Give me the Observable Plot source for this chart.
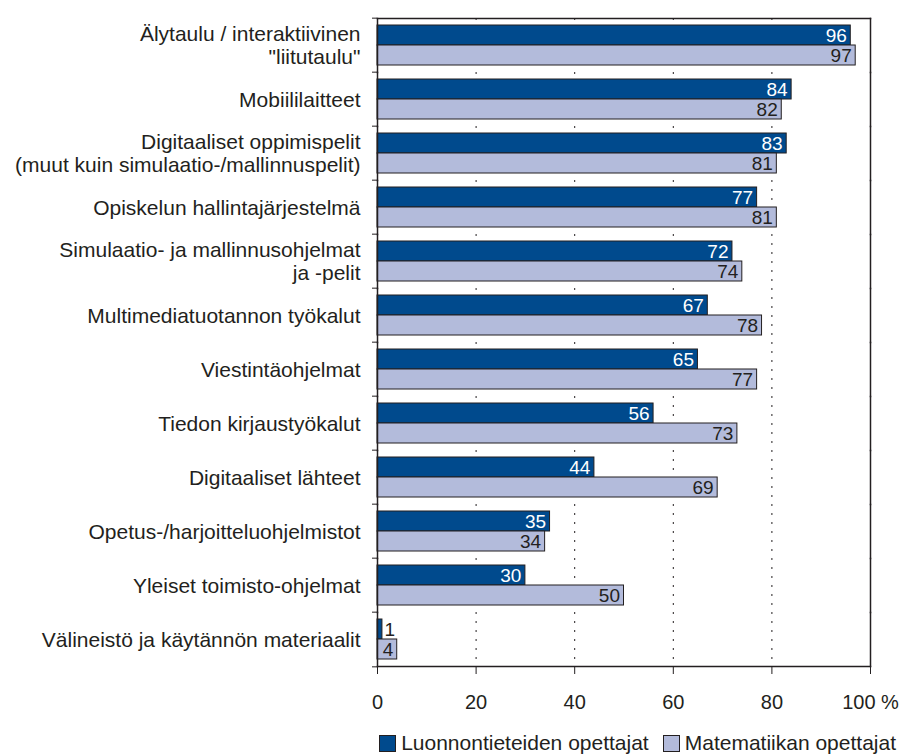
<!DOCTYPE html>
<html><head><meta charset="utf-8">
<script src="https://cdn.jsdelivr.net/npm/d3@7"></script>
<script src="https://cdn.jsdelivr.net/npm/@observablehq/plot@0.6"></script>
<style>
body{margin:0;background:#fff;font-family:"Liberation Sans",Arial,sans-serif;color:#231f20;overflow:hidden;}
#legend{display:flex;justify-content:flex-end;align-items:center;height:34px;padding-right:8px;font-size:21px;}
.item{display:flex;align-items:center;margin-left:14px;}
.sw{width:17px;height:17px;border:1px solid #231f20;margin-right:5px;box-sizing:border-box;}
</style>
</head><body><div id="chart"></div><div id="legend"></div>
<script>
const categories = [
  "Älytaulu / interaktiivinen\n\"liitutaulu\"",
  "Mobiililaitteet",
  "Digitaaliset oppimispelit\n(muut kuin simulaatio-/mallinnuspelit)",
  "Opiskelun hallintajärjestelmä",
  "Simulaatio- ja mallinnusohjelmat\nja -pelit",
  "Multimediatuotannon työkalut",
  "Viestintäohjelmat",
  "Tiedon kirjaustyökalut",
  "Digitaaliset lähteet",
  "Opetus-/harjoitteluohjelmistot",
  "Yleiset toimisto-ohjelmat",
  "Välineistö ja käytännön materiaalit"
];
const series = ["Luonnontieteiden opettajat", "Matematiikan opettajat"];
const luonnontiede = [96, 84, 83, 77, 72, 67, 65, 56, 44, 35, 30, 1];
const matematiikka = [97, 82, 81, 81, 74, 78, 77, 73, 69, 34, 50, 4];
const xTicks = [0, 20, 40, 60, 80, 100];
const gridTicks = [20, 40, 60, 80];
const colors = ["#004a8d", "#b3bbdb"];
const ink = "#231f20";

const data = categories.flatMap((c, i) => [
  {category: c, series: series[0], value: luonnontiede[i]},
  {category: c, series: series[1], value: matematiikka[i]}
]);

const W = 904, H = 726, mt = 14, mb = 56, ml = 377, mr = 34;
const step = (H - mt - mb) / categories.length;

const chart = Plot.plot({
  width: W, height: H,
  marginTop: mt, marginBottom: mb, marginLeft: ml, marginRight: mr,
  style: {fontFamily: "Liberation Sans, Arial, sans-serif", fontSize: "20px", color: ink, background: "#fff"},
  x: {domain: [0, 100]},
  y: {domain: series, paddingInner: 0, paddingOuter: 0.3, axis: null},
  fy: {domain: categories, padding: 0, axis: null, label: null},
  color: {domain: series, range: colors},
  marks: [
    Plot.ruleX(gridTicks, {stroke: ink, strokeDasharray: "2,7", strokeWidth: 1}),
    Plot.barX(data, {fy: "category", y: "series", x: "value", fill: "series", stroke: ink, strokeWidth: 1}),
    Plot.text(data.filter(d => d.value >= 3 && d.series === series[0]), {fy: "category", y: "series", x: "value", text: d => String(d.value), textAnchor: "end", dx: -4, fill: "white", fontSize: 19}),
    Plot.text(data.filter(d => d.value >= 3 && d.series === series[1]), {fy: "category", y: "series", x: "value", text: d => String(d.value), textAnchor: "end", dx: -4, fill: ink, fontSize: 19}),
    Plot.text(data.filter(d => d.value < 3), {fy: "category", y: "series", x: "value", text: d => String(d.value), textAnchor: "start", dx: 2, fill: ink, fontSize: 19}),
    Plot.text(categories, {fy: d => d, text: d => d, frameAnchor: "left", textAnchor: "end", dx: -17, lineHeight: 1.1, fill: ink, fontSize: 21}),
    Plot.frame({anchor: "left", stroke: ink, strokeWidth: 1.5}),
    Plot.frame({anchor: "right", stroke: ink, strokeWidth: 1.5}),
    Plot.frame({anchor: "top", facetAnchor: "top", stroke: ink, strokeWidth: 1.5}),
    Plot.frame({anchor: "bottom", facetAnchor: "bottom", stroke: ink, strokeWidth: 1.5}),
    Plot.axisX({anchor: "bottom", ticks: xTicks, tickFormat: d => d === 100 ? "100 %" : String(d), tickSize: 8, tickPadding: 20, label: null, stroke: ink}),
    Plot.axisFy({anchor: "left", tickSize: 5, tickFormat: () => "", dy: -step / 2, stroke: ink, label: null}),
    Plot.axisFy({anchor: "left", ticks: [categories[categories.length - 1]], tickSize: 5, tickFormat: () => "", dy: step / 2, stroke: ink, label: null}),
  ]
});
document.getElementById("chart").appendChild(chart);

const legend = document.getElementById("legend");
series.forEach((s, i) => {
  const it = document.createElement("div");
  it.className = "item";
  const sw = document.createElement("span");
  sw.className = "sw";
  sw.style.background = colors[i];
  it.appendChild(sw);
  it.appendChild(document.createTextNode(s));
  legend.appendChild(it);
});
</script>
</body></html>
